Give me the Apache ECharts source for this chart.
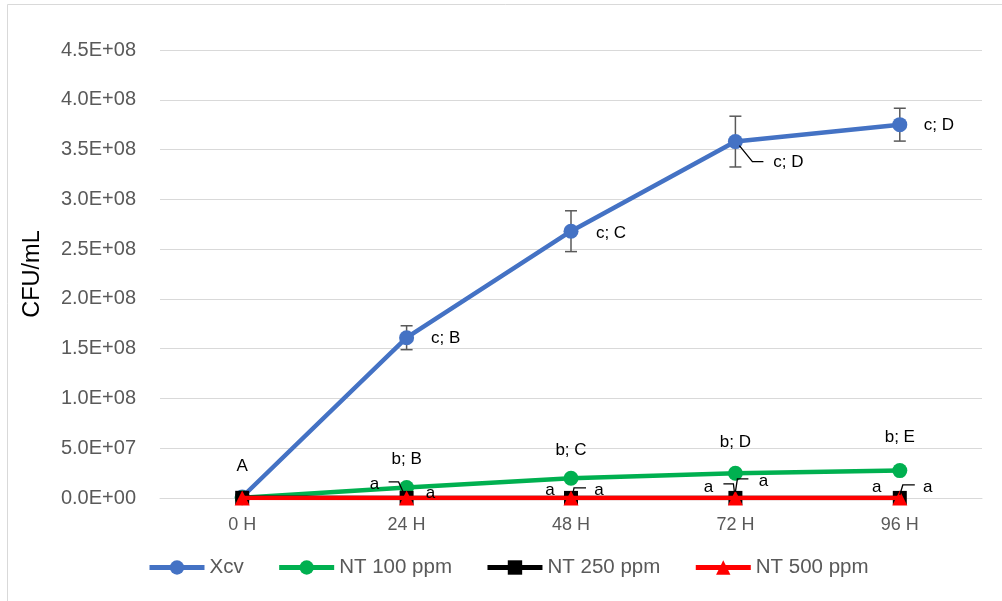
<!DOCTYPE html>
<html>
<head>
<meta charset="utf-8">
<script src="https://cdn.jsdelivr.net/npm/echarts@6/dist/echarts.min.js"></script>
<style>
  html, body { margin: 0; padding: 0; background: #fff; }
  #chart { width: 1002px; height: 601px; }
</style>
</head>
<body>
<div id="chart"></div>
<script>
// Time points and bacterial counts (CFU/mL)
const hours = ['0 H', '24 H', '48 H', '72 H', '96 H'];
const xcv = [1.0e6, 1.61e8, 2.68e8, 3.58e8, 3.75e8];
const xcvErr = [0, 1.2e7, 2.05e7, 2.55e7, 1.65e7];
const nt100 = [3.0e5, 1.05e7, 1.98e7, 2.48e7, 2.75e7];
const nt250 = [2.0e5, 1.0e5, 1.0e5, 1.0e5, 1.0e5];
const nt500 = [1.0e5, 5.0e4, 5.0e4, 5.0e4, 5.0e4];

// Significance letters per point
const xcvLetters = ['A', 'c; B', 'c; C', 'c; D', 'c; D'];
const nt100Letters = ['', 'b; B', 'b; C', 'b; D', 'b; E'];
const nt250Letters = ['', 'a', 'a', 'a', 'a'];
const nt500Letters = ['', 'a', 'a', 'a', 'a'];

// Label offsets from the point centre, in pixels
const xcvOffsets = [[0, -31], [39, 1], [40, 2], [53, 21], [39, 1]];
const nt100Offsets = [[0, 0], [0, -28], [0, -28], [0, -31], [0, -33]];
const nt250Offsets = [[0, 0], [-32, -14], [-21, -8], [-27, -11], [-23, -11]];
const nt500Offsets = [[0, 0], [24, -5], [28, -8], [28, -17], [28, -11]];

// Leader lines: [series in seriesValues, point index, polyline relative to point]
const leaders = [
  [0, 3, [[4, 4], [17, 20], [28, 20]]],
  [2, 1, [[-18, -16], [-8, -16], [-3, -5]]],
  [3, 2, [[2, -5], [3, -10], [15, -10]]],
  [2, 3, [[-12, -14], [-2, -14], [-1, -6]]],
  [3, 3, [[0, -6], [2, -19], [13, -19]]],
  [3, 4, [[0, -3], [3, -13], [15, -13]]]
];

const seriesValues = [xcv, nt100, nt250, nt500];

function sci(v) {
  if (v === 0) return '0.0E+00';
  const e = Math.floor(Math.log10(v) + 1e-9);
  const m = v / Math.pow(10, e);
  return m.toFixed(1) + 'E+' + String(e).padStart(2, '0');
}

const FONT = '"Liberation Sans", Arial, sans-serif';

function labelled(values, letters, offsets) {
  return values.map((v, i) => ({
    value: v,
    label: {
      show: letters[i] !== '',
      formatter: letters[i],
      position: 'inside',
      offset: offsets[i],
      color: '#000',
      fontSize: 17,
      fontFamily: FONT
    }
  }));
}

const chart = echarts.init(document.getElementById('chart'), null, { renderer: 'canvas' });

const option = {
  backgroundColor: '#fff',
  animation: false,
  grid: { left: 160, right: 20, top: 50, bottom: 103 },
  xAxis: {
    type: 'category',
    data: hours,
    boundaryGap: true,
    axisLine: { lineStyle: { color: '#d9d9d9', width: 1 } },
    axisTick: { show: false },
    axisLabel: { color: '#595959', fontSize: 18, fontFamily: FONT, margin: 18 }
  },
  yAxis: {
    type: 'value',
    min: 0,
    max: 4.5e8,
    interval: 5e7,
    name: 'CFU/mL',
    nameLocation: 'middle',
    nameGap: 115,
    nameTextStyle: { color: '#000', fontSize: 23.5, fontFamily: FONT },
    axisLine: { show: false },
    axisTick: { show: false },
    splitLine: { lineStyle: { color: '#d9d9d9', width: 1 } },
    axisLabel: { color: '#595959', fontSize: 20, fontFamily: FONT, margin: 24, formatter: sci }
  },
  legend: {
    left: 147,
    top: 557,
    padding: 0,
    itemWidth: 55,
    itemHeight: 18,
    itemGap: 33,
    lineStyle: { width: 5 },
    textStyle: { color: '#595959', fontSize: 20.5, fontFamily: FONT },
    data: ['Xcv', 'NT 100 ppm', 'NT 250 ppm', 'NT 500 ppm']
  },
  series: [
    {
      name: 'err',
      type: 'custom',
      z: 1,
      silent: true,
      data: xcv.map((v, i) => [i, v - xcvErr[i], v + xcvErr[i]]),
      renderItem: function (params, api) {
        if (api.value(2) === api.value(1)) return null;
        const lo = api.coord([api.value(0), api.value(1)]);
        const hi = api.coord([api.value(0), api.value(2)]);
        const w = 6;
        const st = { stroke: '#595959', lineWidth: 1.5 };
        return {
          type: 'group',
          children: [
            { type: 'line', shape: { x1: lo[0], y1: lo[1], x2: hi[0], y2: hi[1] }, style: st },
            { type: 'line', shape: { x1: lo[0] - w, y1: lo[1], x2: lo[0] + w, y2: lo[1] }, style: st },
            { type: 'line', shape: { x1: hi[0] - w, y1: hi[1], x2: hi[0] + w, y2: hi[1] }, style: st }
          ]
        };
      }
    },
    {
      name: 'Xcv',
      type: 'line',
      z: 2,
      data: labelled(xcv, xcvLetters, xcvOffsets),
      symbol: 'circle',
      symbolSize: 15,
      itemStyle: { color: '#4472C4' },
      lineStyle: { color: '#4472C4', width: 4.5 }
    },
    {
      name: 'NT 100 ppm',
      type: 'line',
      z: 3,
      data: labelled(nt100, nt100Letters, nt100Offsets),
      symbol: 'circle',
      symbolSize: 15,
      itemStyle: { color: '#00B050' },
      lineStyle: { color: '#00B050', width: 4.5 }
    },
    {
      name: 'NT 250 ppm',
      type: 'line',
      z: 4,
      data: labelled(nt250, nt250Letters, nt250Offsets),
      symbol: 'rect',
      symbolSize: 14,
      itemStyle: { color: '#000' },
      lineStyle: { color: '#000', width: 4.5 }
    },
    {
      name: 'NT 500 ppm',
      type: 'line',
      z: 5,
      data: labelled(nt500, nt500Letters, nt500Offsets),
      symbol: 'triangle',
      symbolSize: 15,
      itemStyle: { color: '#FF0000' },
      lineStyle: { color: '#FF0000', width: 4.5 }
    }
  ]
};

chart.setOption(option);

// Chart frame and leader lines anchored to the plotted points
const graphics = [
  {
    type: 'rect',
    silent: true,
    shape: { x: 7.5, y: 4.5, width: 1000, height: 600 },
    style: { fill: 'none', stroke: '#d9d9d9', lineWidth: 1 }
  }
];
leaders.forEach(([s, i, pts]) => {
  const p = chart.convertToPixel({ gridIndex: 0 }, [i, seriesValues[s][i]]);
  graphics.push({
    type: 'polyline',
    silent: true,
    z: 10,
    shape: { points: pts.map(d => [p[0] + d[0], p[1] + d[1]]) },
    style: { stroke: '#000', lineWidth: 1.3, fill: 'none' }
  });
});
chart.setOption({ graphic: graphics });
</script>
</body>
</html>
